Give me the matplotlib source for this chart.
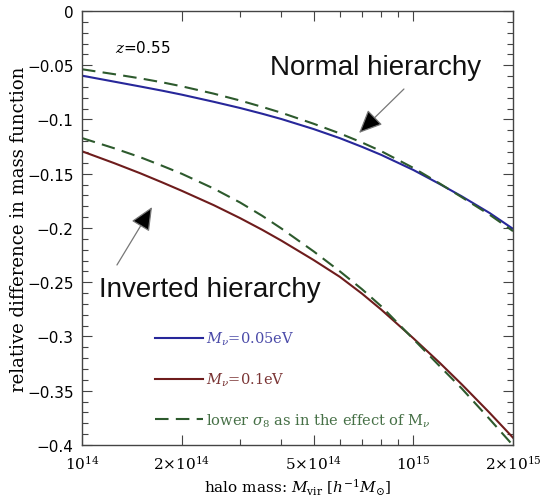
import numpy as np
import matplotlib
matplotlib.use('Agg')
import matplotlib.pyplot as plt
from matplotlib.ticker import FixedLocator, FixedFormatter, NullFormatter

# halo mass [h^-1 Msun]
mass = [1e14, 1.25e14, 1.5e14, 1.75e14, 2e14, 2.5e14, 3e14, 3.5e14, 4e14,
        5e14, 6e14, 7e14, 8e14, 1e15, 1.2e15, 1.4e15, 1.7e15, 2e15]

# relative difference in mass function
normal_005 = [-0.0596, -0.0651, -0.0696, -0.0735, -0.0771, -0.0837, -0.0894, -0.0947, -0.0996,
              -0.1088, -0.1172, -0.1252, -0.1326, -0.1465, -0.1594, -0.1708, -0.1862, -0.2008]
normal_sig8 = [-0.0537, -0.0582, -0.0621, -0.0658, -0.0694, -0.0762, -0.0825, -0.0884, -0.0938,
               -0.1039, -0.1128, -0.1212, -0.1292, -0.1446, -0.1589, -0.1716, -0.1878, -0.2029]
inverted_01 = [-0.1293, -0.1402, -0.1496, -0.1581, -0.1657, -0.1790, -0.1909, -0.2017, -0.2117,
               -0.2295, -0.2450, -0.2605, -0.2752, -0.3016, -0.3241, -0.3441, -0.3704, -0.3933]
inverted_sig8 = [-0.1171, -0.1265, -0.1348, -0.1428, -0.1500, -0.1637, -0.1765, -0.1888, -0.2005,
                 -0.2215, -0.2399, -0.2564, -0.2721, -0.3023, -0.3272, -0.3479, -0.3762, -0.4004]

xticks = [1e14, 2e14, 5e14, 1e15, 2e15]
xticklabels = [r'$10^{14}$', r'$2{\times}10^{14}$', r'$5{\times}10^{14}$', r'$10^{15}$', r'$2{\times}10^{15}$']
yticks = [0, -0.05, -0.1, -0.15, -0.2, -0.25, -0.3, -0.35, -0.4]
yticklabels = ['0', '\u22120.05', '\u22120.1', '\u22120.15', '\u22120.2', '\u22120.25', '\u22120.3', '\u22120.35', '\u22120.4']

plt.rcParams['mathtext.fontset'] = 'dejavuserif'

fig = plt.figure(figsize=(5.43, 5.02), dpi=100)
ax = fig.add_axes([0.151, 0.1116, 0.7938, 0.8645])

blue = '#27279a'
red = '#6e1c1c'
green = '#2d5a2d'
dash = (0, (6.5, 3.5))

ax.plot(mass, normal_005, color=blue, lw=1.5, label=r'$M_\nu$=0.05eV')
ax.plot(mass, inverted_01, color=red, lw=1.5, label=r'$M_\nu$=0.1eV')
ax.plot(mass, normal_sig8, color=green, lw=1.5, ls=dash,
        label=r'lower $\sigma_8$ as in the effect of M$_\nu$')
ax.plot(mass, inverted_sig8, color=green, lw=1.5, ls=dash)

ax.set_xscale('log')
ax.set_xlim(1e14, 2e15)
ax.set_ylim(-0.4, 0)

ax.xaxis.set_major_locator(FixedLocator(xticks))
ax.xaxis.set_major_formatter(FixedFormatter(xticklabels))
ax.xaxis.set_minor_locator(FixedLocator([3e14, 4e14, 6e14, 7e14, 8e14, 9e14]))
ax.xaxis.set_minor_formatter(NullFormatter())
ax.yaxis.set_major_locator(FixedLocator(yticks))
ax.yaxis.set_major_formatter(FixedFormatter(yticklabels))
ax.yaxis.set_minor_locator(FixedLocator(np.arange(-0.4, 0.001, 0.01)))

ax.tick_params(which='both', direction='in', top=True, right=True, color='#444444')
ax.tick_params(which='major', length=7, width=0.8)
ax.tick_params(which='minor', length=4, width=0.8)
ax.tick_params(axis='y', labelsize=11, pad=6)
ax.tick_params(axis='x', labelsize=11, pad=6)
for lab in ax.get_yticklabels():
    lab.set_family('DejaVu Sans')
for s in ax.spines.values():
    s.set_color('#444444')
    s.set_linewidth(1.0)

ax.set_xlabel(r'halo mass: $M_{\rm vir}$ [$h^{-1}M_{\odot}$]', family='DejaVu Serif', fontsize=11)
ax.set_ylabel('relative difference in mass function', family='DejaVu Serif', fontsize=13, labelpad=-1)

ax.text(1.26e14, -0.038, r'$z$=0.55', family='DejaVu Sans', fontsize=11)

ax.text(7.72e14, -0.0516, 'Normal hierarchy', family='Liberation Sans', fontsize=20,
        ha='center', va='center', color='#111111')
ax.text(2.43e14, -0.2562, 'Inverted hierarchy', family='Liberation Sans', fontsize=20,
        ha='center', va='center', color='#111111')

arrow = dict(arrowstyle='-|>,head_length=1.45,head_width=0.65', lw=0.9,
             color='#777777', fc='black', shrinkA=0, shrinkB=0)
ax.annotate('', xy=(6.86e14, -0.1124), xytext=(9.37e14, -0.0719), arrowprops=arrow)
ax.annotate('', xy=(1.627e14, -0.1807), xytext=(1.275e14, -0.2341), arrowprops=arrow)

leg = ax.legend(loc='upper left', bbox_to_anchor=(0.138, 0.295), frameon=False,
                handlelength=3.3, handletextpad=0.2, labelspacing=1.6,
                prop={'family': 'DejaVu Serif', 'size': 10.5})
for t, c in zip(leg.get_texts(), ['#4a4aa8', '#7a3434', '#467046']):
    t.set_color(c)

fig.savefig('out.png', dpi=100)
